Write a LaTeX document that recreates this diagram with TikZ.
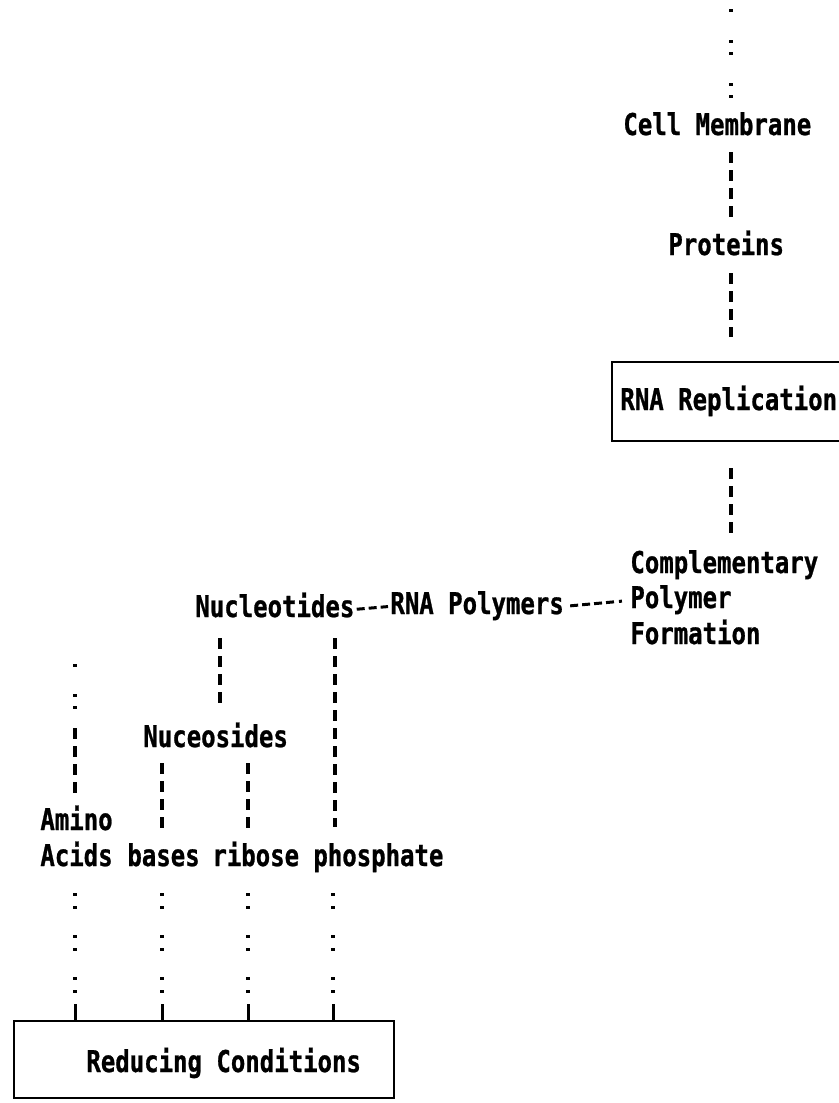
\documentclass[tikz,border=0pt]{standalone}
\usepackage{fontspec}
\newfontfamily\dmfont[FakeStretch=0.8, BoldFeatures={FakeBold=0.8}]{DejaVu Sans Mono}
\begin{document}
\begin{tikzpicture}[x=0.5pt,y=-0.5pt,
  lbl/.style={inner sep=0pt, anchor=base west, font=\dmfont\bfseries\fontsize{15}{18}\selectfont, text height=11pt, text depth=0pt},
  frame/.style={line width=1.2pt},
  dashline/.style={line width=1.8pt, dash pattern=on 5.5pt off 3.5pt},
  colonline/.style={line width=1.8pt, dash pattern=on 1.5pt off 5pt on 1.5pt off 13pt},
  topdots/.style={line width=1.8pt, dash pattern=on 1.5pt off 14pt on 1.5pt off 4.5pt},
  aminopat/.style={line width=1.8pt, dash pattern=on 1.5pt off 13.5pt on 1.5pt off 4.5pt on 1.5pt off 9.5pt on 5.5pt off 3.5pt on 5.5pt off 3.5pt on 5.5pt off 3.5pt on 5.5pt off 20pt},
  hyph/.style={line width=1.5pt, dash pattern=on 4pt off 2pt},
  hyphdot/.style={line width=1.5pt, dash pattern=on 4pt off 2pt on 4pt off 2pt on 4pt off 2pt on 4pt off 2.5pt on 1.5pt off 10pt},
  tickline/.style={line width=1.5pt}]
\useasboundingbox (0,0) rectangle (839,1103);

% column x positions
\coordinate (cx) at (731,0);
\coordinate (edge) at (839,0);
\coordinate (xa) at (75,0);
\coordinate (xb) at (162,0);
\coordinate (xr) at (248,0);
\coordinate (xp) at (335,0);
\coordinate (xq) at (333,0);
\coordinate (xn) at (220,0);

% upper chain
\coordinate (topend) at (731,9);
\node[lbl] (cm) at (623,135) {Cell Membrane};
\node[lbl] (prot) at (668,255) {Proteins};
\coordinate (rrtl) at (612,362);
\coordinate (rrbl) at (612,441);
\draw[frame] (rrtl -| edge) -- (rrtl) -- (rrbl) -- (rrbl -| edge);
\node[lbl] (rr) at (620,410) {RNA Replication};
\node[lbl] (comp) at (630,573) {Complementary};
\node[lbl] (poly) at (630,608) {Polymer};
\node[lbl] (form) at (630,644) {Formation};

\draw[topdots] (topend) -- (cm.north -| cx);
\draw[dashline, shorten <=8.5pt, shorten >=8pt] (cm.south -| cx) -- (prot.north -| cx);
\draw[dashline, shorten <=9pt, shorten >=12.5pt] (prot.south -| cx) -- (rrtl -| cx);
\draw[dashline, shorten <=13.5pt, shorten >=7pt] (rrbl -| cx) -- (comp.north -| cx);

% middle row
\node[lbl] (nuc) at (195,617) {Nucleotides};
\node[lbl] (rna) at (390,614) {RNA Polymers};
\draw[hyph, shorten <=1pt, shorten >=1pt] ([yshift=4pt]nuc.south east) -- ([yshift=4pt]rna.south west);
\draw[hyphdot, shorten <=3pt] ([yshift=4pt]rna.south east) -- ([yshift=4pt]poly.south west);

\node[lbl] (nucs) at (143,747) {Nuceosides};
\node[lbl] (amino) at (40,830) {Amino};
\node[lbl] (acids) at (40,866) {Acids};
\node[lbl] (bases) at (127,866) {bases};
\node[lbl] (ribose) at (212,866) {ribose};
\node[lbl] (phos) at (313,866) {phosphate};

\draw[dashline, shorten <=10.5pt, shorten >=7.5pt] (nuc.south -| xn) -- (nucs.north -| xn);
\draw[dashline, shorten <=10.5pt, shorten >=8.5pt] (nuc.south -| xp) -- (phos.north -| xp);
\draw[dashline, shorten <=8pt, shorten >=5.5pt] (nucs.south -| xb) -- (bases.north -| xb);
\draw[dashline, shorten <=8pt, shorten >=5.5pt] (nucs.south -| xr) -- (ribose.north -| xr);

\coordinate (aminotop) at (75,664);
\draw[aminopat] (aminotop) -- (amino.north -| aminotop);

% reducing conditions
\node[draw, frame, inner sep=0pt, minimum width=190pt, minimum height=38.5pt, anchor=north west] (rc) at (13,1020) {};
\node[lbl] (rct) at (86,1072) {Reducing Conditions};

\foreach \w/\c in {acids/xa, bases/xb, ribose/xr, phos/xq}{
  \draw[colonline, shorten <=13.5pt, shorten >=12.5pt] (\w.south -| \c) -- (rc.north -| \c);
  \draw[tickline] (rc.north -| \c) -- ++(0,-16);
}
\end{tikzpicture}
\end{document}
